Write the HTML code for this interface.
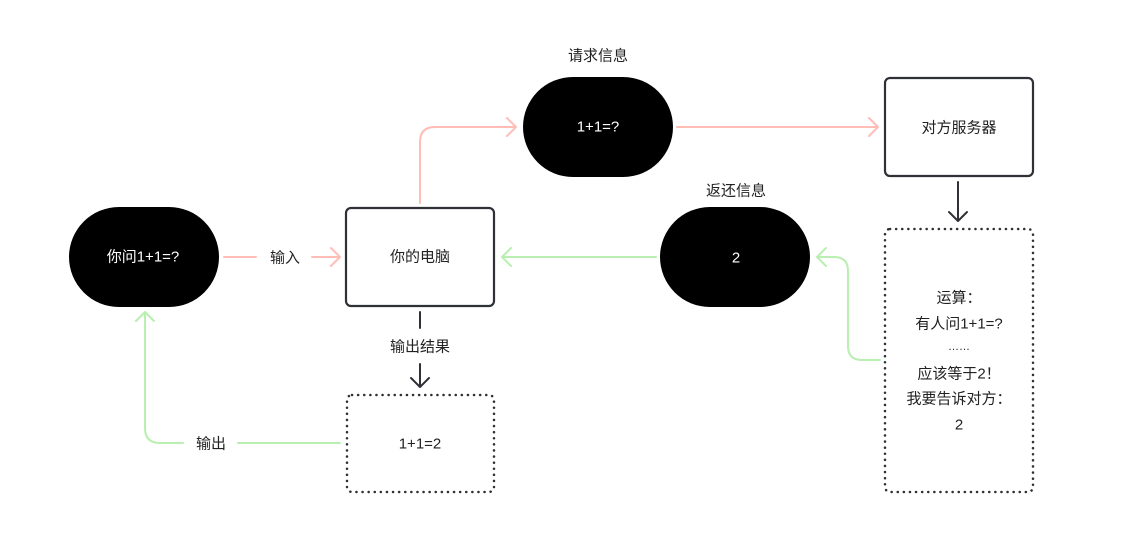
<!DOCTYPE html>
<html><head><meta charset="utf-8"><style>
html,body{margin:0;padding:0;background:#fff;}
svg{display:block;}
text{font-family:"Liberation Sans","Noto Sans CJK SC",sans-serif;font-size:15px;text-anchor:middle;dominant-baseline:central;fill:#222;}
.w{fill:#fff;}
</style></head><body>
<svg width="1121" height="541" viewBox="0 0 1121 541" xmlns="http://www.w3.org/2000/svg">
<rect width="1121" height="541" fill="#fff"/>
<g fill="#000">
<rect x="69" y="207" width="150" height="100" rx="50"/>
<rect x="523" y="77" width="150" height="100" rx="50"/>
<rect x="660" y="207" width="150" height="100" rx="50"/>
</g>
<g fill="#fff" stroke="#2f3136" stroke-width="2.2">
<rect x="346" y="208" width="148" height="98" rx="5"/>
<rect x="885" y="78" width="148" height="98" rx="5"/>
</g>
<g fill="none" stroke="#2f3136" stroke-width="2.5" stroke-dasharray="0.1 6" stroke-linecap="round">
<rect x="885" y="229" width="148" height="263" rx="5"/>
<rect x="347" y="395" width="147" height="97" rx="5"/>
</g>
<g fill="none" stroke="#ffbdb6" stroke-width="2" stroke-linejoin="round" stroke-linecap="round">
<path d="M224 257H256M312 257H340M331 248L340 257L331 266"/>
<path d="M420 203V142Q420 127 435 127H516M507 118L516 127L507 136"/>
<path d="M677 127H878M869 118L878 127L869 136"/>
</g>
<g fill="none" stroke="#b9efb0" stroke-width="2" stroke-linejoin="round" stroke-linecap="round">
<path d="M656 257H502M511 248L502 257L511 266"/>
<path d="M880 360H862Q848 360 848 346V271Q848 257 834 257H817M826 248L817 257L826 266"/>
<path d="M340 443H238M183 443H160Q145 443 145 428V312M136 321L145 312L154 321"/>
</g>
<g fill="none" stroke="#2f3136" stroke-width="2" stroke-linecap="round" stroke-linejoin="round">
<path d="M420 312V328M420 364V387M411 378L420 387L429 378"/>
<path d="M958 182V221M949 212L958 221L967 212"/>
</g>
<text class="w" x="143" y="257">你问1+1=?</text>
<text class="w" x="598" y="127">1+1=?</text>
<text class="w" x="736" y="258">2</text>
<text x="420" y="257">你的电脑</text>
<text x="959" y="128">对方服务器</text>
<text x="285" y="258">输入</text>
<text x="598" y="56">请求信息</text>
<text x="736" y="191">返还信息</text>
<text x="420" y="347">输出结果</text>
<text x="211" y="444">输出</text>
<text x="420" y="444">1+1=2</text>
<text x="959" y="298">运算：</text>
<text x="959" y="324">有人问1+1=?</text>
<text x="959" y="347" style="font-size:11px">……</text>
<text x="959" y="374">应该等于2！</text>
<text x="959" y="399">我要告诉对方：</text>
<text x="959" y="425">2</text>
</svg>
</body></html>
